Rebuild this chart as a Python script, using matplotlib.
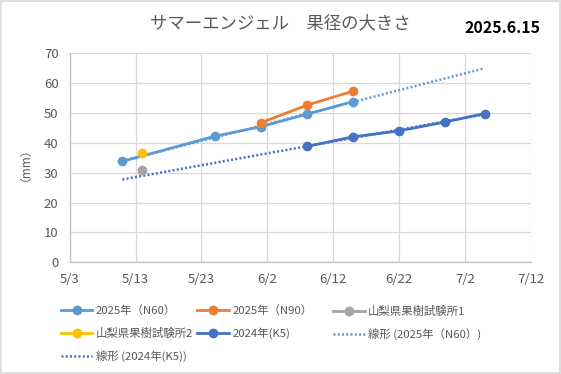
import numpy as np
import pandas as pd
import matplotlib
matplotlib.use("Agg")
from matplotlib import pyplot as plt
import matplotlib.dates as mdates
from matplotlib.patches import Rectangle

plt.rcParams['font.family'] = ['Noto Sans CJK JP', 'DejaVu Sans']

# data (mm)
n60_dates = pd.to_datetime(['2025-05-11', '2025-05-25', '2025-06-01', '2025-06-08', '2025-06-15'])
n60_vals = [33.8, 42.2, 45.4, 49.6, 53.8]
n90_dates = pd.to_datetime(['2025-06-01', '2025-06-08', '2025-06-15'])
n90_vals = [46.7, 52.6, 57.3]
lab1_dates = pd.to_datetime(['2025-05-14'])
lab1_vals = [30.9]
lab2_dates = pd.to_datetime(['2025-05-14'])
lab2_vals = [36.6]
k5_dates = pd.to_datetime(['2025-06-08', '2025-06-15', '2025-06-22', '2025-06-29', '2025-07-05'])
k5_vals = [38.8, 42.0, 44.0, 47.0, 49.8]

tick_dates = pd.to_datetime(['2025-05-03', '2025-05-13', '2025-05-23', '2025-06-02',
                             '2025-06-12', '2025-06-22', '2025-07-02', '2025-07-12'])
tick_labels = ['5/3', '5/13', '5/23', '6/2', '6/12', '6/22', '7/2', '7/12']

c_n60 = '#5B9BD5'
c_n90 = '#ED7D31'
c_lab1 = '#A5A5A5'
c_lab2 = '#FFC000'
c_k5 = '#4472C4'
txt = '#595959'


def trend(dates, vals, back=0, fwd=0):
    x = mdates.date2num(dates)
    p = np.polyfit(x, vals, 1)
    xx = np.array([x.min() - back, x.max() + fwd])
    return mdates.num2date(xx), np.polyval(p, xx)


fig = plt.figure(figsize=(5.61, 3.74), dpi=100)
ax = fig.add_axes([0.1242, 0.2987, 0.8217, 0.5588])

ms = 6
lw = 2.0
h1, = ax.plot(n60_dates, n60_vals, '-o', color=c_n60, lw=lw, ms=ms, label='2025年（N60）', zorder=4)
h2, = ax.plot(n90_dates, n90_vals, '-o', color=c_n90, lw=lw, ms=ms, label='2025年（N90）', zorder=4)
h3, = ax.plot(lab1_dates, lab1_vals, '-o', color=c_lab1, lw=lw, ms=ms, label='山梨県果樹試験所1', zorder=4)
h4, = ax.plot(lab2_dates, lab2_vals, '-o', color=c_lab2, lw=lw, ms=ms, label='山梨県果樹試験所2', zorder=4)
h5, = ax.plot(k5_dates, k5_vals, '-o', color=c_k5, lw=lw, ms=ms, label='2024年(K5)', zorder=4)

tx, ty = trend(n60_dates, n60_vals, fwd=20)
h6, = ax.plot(tx, ty, color=c_n60, lw=1.8, ls=(0, (0.8, 0.9)), label='線形 (2025年（N60）)', zorder=3)
tx, ty = trend(k5_dates, k5_vals, back=28)
h7, = ax.plot(tx, ty, color=c_k5, lw=1.8, ls=(0, (0.8, 0.9)), label='線形 (2024年(K5))', zorder=3)

ax.set_xlim(tick_dates[0], tick_dates[-1])
ax.set_ylim(0, 70)
ax.set_xticks(tick_dates)
ax.set_xticklabels(tick_labels)
ax.set_yticks(range(0, 71, 10))
ax.grid(True, color='#D9D9D9', lw=0.9)
ax.set_axisbelow(True)
for s in ['top', 'right']:
    ax.spines[s].set_visible(False)
for s in ['left', 'bottom']:
    ax.spines[s].set_color('#BFBFBF')
    ax.spines[s].set_linewidth(0.9)
ax.tick_params(length=0, labelsize=9.5, colors=txt, pad=8)
ax.set_ylabel('（mm）', color=txt, fontsize=8.5)
ax.yaxis.set_label_coords(-0.095, 0.5)

fig.text(0.50, 0.937, 'サマーエンジェル　果径の大きさ', ha='center', va='center', fontsize=12.5, color=txt)
fig.text(0.895, 0.925, '2025.6.15', ha='center', va='center', fontsize=11.5, fontweight='bold', color='black')

# legend laid out in three columns like the original
cols = [([h1, h4, h7], 0.108), ([h2, h5], 0.351), ([h3, h6], 0.593)]
for hs, x0 in cols:
    lg = fig.legend(handles=hs, loc='upper left', bbox_to_anchor=(x0, 0.183), frameon=False,
                    fontsize=8.2, handlelength=2.8, handletextpad=0.3, labelspacing=1.0,
                    borderaxespad=0, borderpad=0)
    for t in lg.get_texts():
        t.set_color(txt)

fig.patches.append(Rectangle((0.001, 0.002), 0.997, 0.995, transform=fig.transFigure,
                             fill=False, edgecolor='#D9D9D9', lw=1.2))

fig.savefig('out.png', dpi=100)
